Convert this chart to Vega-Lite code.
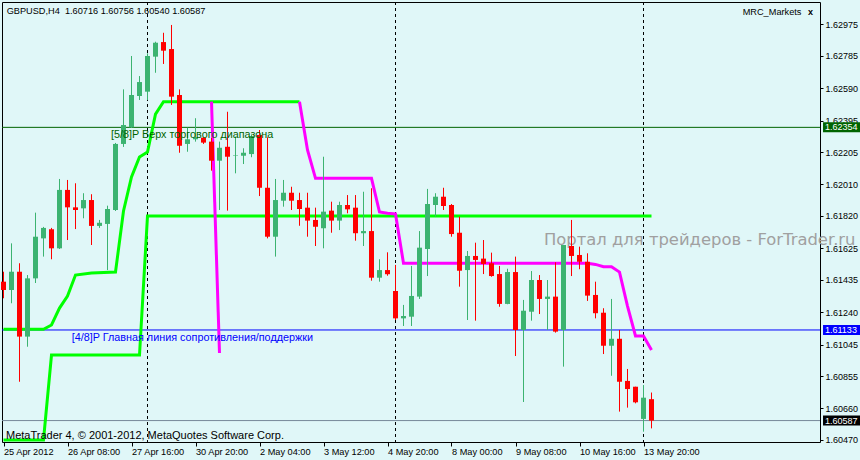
{
  "$schema": "https://vega.github.io/schema/vega-lite/v6.json",
  "width": 818,
  "height": 440,
  "autosize": {"type": "none"},
  "padding": {"left": 2, "top": 2, "right": 40, "bottom": 18},
  "background": "#E0F7F8",
  "config": {
    "view": {"stroke": "#000000", "strokeWidth": 1},
    "font": "Liberation Sans",
    "scale": {"continuousPadding": 0},
    "axis": {"grid": false, "domain": false, "tickColor": "#000000", "labelColor": "#000000", "labelFont": "Liberation Sans"}
  },
  "resolve": {"scale": {"color": "independent"}, "axis": {"x": "independent", "y": "independent"}},
  "datasets": {
    "candles": [
      {"i":0,"open":1.61424,"high":1.61484,"low":1.61324,"close":1.61374},
      {"i":1,"open":1.61374,"high":1.61655,"low":1.61294,"close":1.61484},
      {"i":2,"open":1.61484,"high":1.61535,"low":1.60821,"close":1.61093},
      {"i":3,"open":1.61093,"high":1.61464,"low":1.61032,"close":1.61444},
      {"i":4,"open":1.61444,"high":1.61840,"low":1.61416,"close":1.61695},
      {"i":5,"open":1.61685,"high":1.61754,"low":1.61575,"close":1.61748},
      {"i":6,"open":1.61740,"high":1.61748,"low":1.61559,"close":1.61625},
      {"i":7,"open":1.61625,"high":1.62043,"low":1.61621,"close":1.61977},
      {"i":8,"open":1.61977,"high":1.62037,"low":1.61675,"close":1.61872},
      {"i":9,"open":1.61872,"high":1.62017,"low":1.61741,"close":1.61856},
      {"i":10,"open":1.61866,"high":1.61957,"low":1.61806,"close":1.61916},
      {"i":11,"open":1.61916,"high":1.61951,"low":1.61645,"close":1.61760},
      {"i":12,"open":1.61760,"high":1.61796,"low":1.61748,"close":1.61779},
      {"i":13,"open":1.61772,"high":1.61882,"low":1.61494,"close":1.61862},
      {"i":14,"open":1.61856,"high":1.62260,"low":1.61850,"close":1.62254},
      {"i":15,"open":1.62254,"high":1.62583,"low":1.62236,"close":1.62368},
      {"i":16,"open":1.62354,"high":1.62784,"low":1.62350,"close":1.62549},
      {"i":17,"open":1.62543,"high":1.62663,"low":1.62519,"close":1.62627},
      {"i":18,"open":1.62569,"high":1.62800,"low":1.62519,"close":1.62784},
      {"i":19,"open":1.62780,"high":1.62870,"low":1.62683,"close":1.62864},
      {"i":20,"open":1.62868,"high":1.62924,"low":1.62736,"close":1.62816},
      {"i":21,"open":1.62826,"high":1.62971,"low":1.62489,"close":1.62539},
      {"i":22,"open":1.62549,"high":1.62583,"low":1.62201,"close":1.62243},
      {"i":23,"open":1.62254,"high":1.62352,"low":1.62207,"close":1.62282},
      {"i":24,"open":1.62282,"high":1.62409,"low":1.62268,"close":1.62294},
      {"i":25,"open":1.62292,"high":1.62296,"low":1.62254,"close":1.62262},
      {"i":26,"open":1.62268,"high":1.62290,"low":1.62093,"close":1.62153},
      {"i":27,"open":1.62153,"high":1.62268,"low":1.61856,"close":1.62231},
      {"i":28,"open":1.62237,"high":1.62448,"low":1.61852,"close":1.62177},
      {"i":29,"open":1.62184,"high":1.62298,"low":1.62077,"close":1.62187},
      {"i":30,"open":1.62183,"high":1.62228,"low":1.62133,"close":1.62201},
      {"i":31,"open":1.62193,"high":1.62312,"low":1.62174,"close":1.62302},
      {"i":32,"open":1.62308,"high":1.62338,"low":1.61940,"close":1.61990},
      {"i":33,"open":1.61990,"high":1.62294,"low":1.61685,"close":1.61695},
      {"i":34,"open":1.61695,"high":1.62043,"low":1.61575,"close":1.61916},
      {"i":35,"open":1.61912,"high":1.62037,"low":1.61876,"close":1.61960},
      {"i":36,"open":1.61960,"high":1.61996,"low":1.61856,"close":1.61912},
      {"i":37,"open":1.61916,"high":1.61960,"low":1.61761,"close":1.61862},
      {"i":38,"open":1.61870,"high":1.61960,"low":1.61695,"close":1.61792},
      {"i":39,"open":1.61796,"high":1.61870,"low":1.61639,"close":1.61755},
      {"i":40,"open":1.61746,"high":1.62177,"low":1.61625,"close":1.61846},
      {"i":41,"open":1.61852,"high":1.61906,"low":1.61719,"close":1.61792},
      {"i":42,"open":1.61792,"high":1.61906,"low":1.61735,"close":1.61886},
      {"i":43,"open":1.61886,"high":1.61946,"low":1.61836,"close":1.61860},
      {"i":44,"open":1.61870,"high":1.61946,"low":1.61671,"close":1.61716},
      {"i":45,"open":1.61716,"high":1.61966,"low":1.61639,"close":1.61729},
      {"i":46,"open":1.61729,"high":1.61987,"low":1.61430,"close":1.61448},
      {"i":47,"open":1.61448,"high":1.61559,"low":1.61424,"close":1.61494},
      {"i":48,"open":1.61494,"high":1.61601,"low":1.61460,"close":1.61469},
      {"i":49,"open":1.61368,"high":1.61525,"low":1.61193,"close":1.61203},
      {"i":50,"open":1.61203,"high":1.61284,"low":1.61157,"close":1.61217},
      {"i":51,"open":1.61213,"high":1.61519,"low":1.61157,"close":1.61338},
      {"i":52,"open":1.61334,"high":1.61729,"low":1.61320,"close":1.61629},
      {"i":53,"open":1.61621,"high":1.61983,"low":1.61458,"close":1.61892},
      {"i":54,"open":1.61886,"high":1.61957,"low":1.61816,"close":1.61936},
      {"i":55,"open":1.61936,"high":1.61990,"low":1.61856,"close":1.61880},
      {"i":56,"open":1.61886,"high":1.61892,"low":1.61695,"close":1.61711},
      {"i":57,"open":1.61719,"high":1.61816,"low":1.61394,"close":1.61490},
      {"i":58,"open":1.61494,"high":1.61609,"low":1.61193,"close":1.61579},
      {"i":59,"open":1.61579,"high":1.61659,"low":1.61189,"close":1.61555},
      {"i":60,"open":1.61563,"high":1.61675,"low":1.61470,"close":1.61531},
      {"i":61,"open":1.61535,"high":1.61599,"low":1.61454,"close":1.61458},
      {"i":62,"open":1.61470,"high":1.61519,"low":1.61273,"close":1.61290},
      {"i":63,"open":1.61290,"high":1.61502,"low":1.61288,"close":1.61482},
      {"i":64,"open":1.61482,"high":1.61575,"low":1.60976,"close":1.61133},
      {"i":65,"open":1.61133,"high":1.61314,"low":1.60699,"close":1.61249},
      {"i":66,"open":1.61243,"high":1.61488,"low":1.61189,"close":1.61434},
      {"i":67,"open":1.61434,"high":1.61464,"low":1.61229,"close":1.61320},
      {"i":68,"open":1.61320,"high":1.61434,"low":1.61133,"close":1.61334},
      {"i":69,"open":1.61334,"high":1.61541,"low":1.61117,"close":1.61123},
      {"i":70,"open":1.61133,"high":1.61645,"low":1.60912,"close":1.61645},
      {"i":71,"open":1.61639,"high":1.61796,"low":1.61458,"close":1.61579},
      {"i":72,"open":1.61585,"high":1.61635,"low":1.61499,"close":1.61544},
      {"i":73,"open":1.61544,"high":1.61595,"low":1.61308,"close":1.61340},
      {"i":74,"open":1.61344,"high":1.61424,"low":1.61203,"close":1.61234},
      {"i":75,"open":1.61237,"high":1.61264,"low":1.60988,"close":1.61038},
      {"i":76,"open":1.61038,"high":1.61320,"low":1.60857,"close":1.61080},
      {"i":77,"open":1.61080,"high":1.61133,"low":1.60641,"close":1.60821},
      {"i":78,"open":1.60826,"high":1.60898,"low":1.60665,"close":1.60777},
      {"i":79,"open":1.60791,"high":1.60791,"low":1.60691,"close":1.60697},
      {"i":80,"open":1.60597,"high":1.60801,"low":1.60520,"close":1.60725},
      {"i":81,"open":1.60716,"high":1.60756,"low":1.60540,"close":1.60587}
    ],
    "ind": [
      {"s":"lower","i":0,"p":1.6047},{"s":"lower","i":5,"p":1.6047},{"s":"lower","i":6,"p":1.60982},{"s":"lower","i":17,"p":1.60982},{"s":"lower","i":18,"p":1.6182},{"s":"lower","i":81,"p":1.6182},
      {"s":"upper","i":0,"p":1.61137},{"s":"upper","i":5,"p":1.61137},{"s":"upper","i":6,"p":1.61163},{"s":"upper","i":7,"p":1.61265},{"s":"upper","i":8,"p":1.61338},{"s":"upper","i":9,"p":1.61464},{"s":"upper","i":11,"p":1.61476},{"s":"upper","i":14,"p":1.61482},{"s":"upper","i":15,"p":1.6185},{"s":"upper","i":16,"p":1.62055},{"s":"upper","i":17,"p":1.62175},{"s":"upper","i":18,"p":1.62205},{"s":"upper","i":19,"p":1.62434},{"s":"upper","i":20,"p":1.62509},{"s":"upper","i":37,"p":1.62509},
      {"s":"fall","i":37,"p":1.62509},{"s":"fall","i":38,"p":1.62218},{"s":"fall","i":39,"p":1.62047},{"s":"fall","i":46,"p":1.62047},{"s":"fall","i":47,"p":1.61844},{"s":"fall","i":48,"p":1.61836},{"s":"fall","i":49,"p":1.61832},{"s":"fall","i":50,"p":1.61535},{"s":"fall","i":73,"p":1.61535},{"s":"fall","i":74,"p":1.61528},{"s":"fall","i":75,"p":1.61514},{"s":"fall","i":76,"p":1.61514},{"s":"fall","i":77,"p":1.61482},{"s":"fall","i":78,"p":1.61277},{"s":"fall","i":79,"p":1.61097},{"s":"fall","i":80,"p":1.61097},{"s":"fall","i":81,"p":1.61012},
      {"s":"drop","i":26,"p":1.62509},{"s":"drop","i":27,"p":1.60994}
    ],
    "levels": [
      {"level":"[5/8]","price":1.62354},
      {"level":"[4/8]","price":1.61133},
      {"level":"Bid","price":1.60587}
    ]
  },
  "layer": [
    {
      "data": {"name": "candles"},
      "mark": {"type": "rule", "strokeWidth": 1, "opacity": 0},
      "encoding": {
        "x": {"field": "i", "type": "quantitative",
          "scale": {"domain": [-0.1875, 102.0625], "nice": false, "zero": false, "padding": 0},
          "axis": {"title": null, "values": [0, 8, 16, 24, 32, 40, 48, 56, 64, 72, 80],
            "labelExpr": "['25 Apr 2012','26 Apr 08:00','27 Apr 16:00','30 Apr 20:00','2 May 04:00','3 May 12:00','4 May 20:00','8 May 00:00','9 May 08:00','10 May 16:00','13 May 20:00'][round(datum.value/8)]",
            "labelAlign": "left", "labelBaseline": "top", "labelDx": -1, "labelPadding": 1, "tickSize": 4, "labelFontSize": 9.2, "labelFlush": false, "labelOverlap": false, "orient": "bottom"}},
        "y": {"field": "low", "type": "quantitative",
          "scale": {"domain": [1.604579, 1.631094], "nice": false, "zero": false, "padding": 0},
          "axis": {"title": null, "orient": "right",
            "values": [1.62975, 1.62785, 1.6259, 1.62395, 1.62205, 1.6201, 1.6182, 1.61625, 1.61435, 1.6124, 1.61045, 1.60855, 1.6066, 1.6047],
            "format": ".5f", "labelAlign": "left", "labelBaseline": "middle", "tickSize": 3, "labelPadding": 2, "labelFontSize": 9, "labelOverlap": false, "labelBound": false, "labelSeparation": 0}},
        "y2": {"field": "high"}
      }
    },
    {
      "data": {"values": [{"t": "Портал для трейдеров - ForTrader.ru"}]},
      "mark": {"type": "text", "align": "left", "baseline": "middle", "font": "DejaVu Sans", "fontSize": 16.4, "color": "#A0A0A0"},
      "encoding": {
        "x": {"datum": 67.56, "type": "quantitative", "axis": null},
        "y": {"datum": 1.61675, "type": "quantitative", "axis": null},
        "text": {"field": "t"}
      }
    },
    {
      "data": {"values": [{"i": 18}, {"i": 49}, {"i": 80}]},
      "mark": {"type": "rule", "color": "#000000", "strokeWidth": 1, "strokeDash": [3, 3]},
      "encoding": {"x": {"field": "i", "type": "quantitative", "axis": null}}
    },
    {
      "data": {"name": "levels"},
      "mark": {"type": "rule", "strokeWidth": 1},
      "encoding": {
        "y": {"field": "price", "type": "quantitative", "axis": null},
        "color": {"field": "level", "type": "nominal", "scale": {"domain": ["[5/8]", "[4/8]", "Bid"], "range": ["#006400", "#0000FF", "#778899"]}, "legend": null}
      }
    },
    {
      "data": {"name": "ind"},
      "mark": {"type": "line", "strokeWidth": 3},
      "encoding": {
        "x": {"field": "i", "type": "quantitative", "axis": null},
        "y": {"field": "p", "type": "quantitative", "axis": null},
        "color": {"field": "s", "type": "nominal", "scale": {"domain": ["lower", "upper", "fall", "drop"], "range": ["#00FF00", "#00FF00", "#FF00FF", "#FF00FF"]}, "legend": null}
      }
    },
    {
      "data": {"name": "candles"},
      "mark": {"type": "rule", "strokeWidth": 1},
      "encoding": {
        "x": {"field": "i", "type": "quantitative", "axis": null},
        "y": {"field": "low", "type": "quantitative", "axis": null},
        "y2": {"field": "high"},
        "color": {"condition": {"test": "datum.close >= datum.open", "value": "#3CB371"}, "value": "#FF0000"}
      }
    },
    {
      "data": {"name": "candles"},
      "mark": {"type": "bar", "size": 5},
      "encoding": {
        "x": {"field": "i", "type": "quantitative", "axis": null},
        "y": {"field": "open", "type": "quantitative", "axis": null},
        "y2": {"field": "close"},
        "color": {"condition": {"test": "datum.close >= datum.open", "value": "#3CB371"}, "value": "#FF0000"}
      }
    },
    {
      "data": {"values": [{"t": "[5/8]P Верх торгового диапазона"}]},
      "mark": {"type": "text", "align": "left", "baseline": "top", "dy": 2, "fontSize": 10.8, "color": "#006400"},
      "encoding": {
        "x": {"datum": 13.44, "type": "quantitative", "axis": null},
        "y": {"datum": 1.62354, "type": "quantitative", "axis": null},
        "text": {"field": "t"}
      }
    },
    {
      "data": {"values": [{"t": "[4/8]P Главная линия сопротивления/поддержки"}]},
      "mark": {"type": "text", "align": "left", "baseline": "top", "dy": 2, "fontSize": 10.8, "color": "#0000FF"},
      "encoding": {
        "x": {"datum": 8.53, "type": "quantitative", "axis": null},
        "y": {"datum": 1.61133, "type": "quantitative", "axis": null},
        "text": {"field": "t"}
      }
    },
    {
      "data": {"name": "levels"},
      "mark": {"type": "bar", "orient": "horizontal", "size": 10},
      "encoding": {
        "x": {"datum": 102.44, "type": "quantitative", "axis": null},
        "x2": {"datum": 107.5},
        "y": {"field": "price", "type": "quantitative", "axis": null},
        "fill": {"field": "level", "type": "nominal", "scale": {"domain": ["[5/8]", "[4/8]", "Bid"], "range": ["#006400", "#0000FF", "#000000"]}, "legend": null}
      }
    },
    {
      "data": {"name": "levels"},
      "mark": {"type": "text", "align": "left", "baseline": "middle", "fontSize": 9, "color": "#FFFFFF"},
      "encoding": {
        "x": {"datum": 102.69, "type": "quantitative", "axis": null},
        "y": {"field": "price", "type": "quantitative", "axis": null},
        "text": {"field": "price", "type": "quantitative", "format": ".5f"}
      }
    },
    {
      "data": {"values": [{"t": "GBPUSD,H4\u00a0 1.60716 1.60756 1.60540 1.60587"}]},
      "mark": {"type": "text", "align": "left", "baseline": "middle", "fontSize": 9.2, "color": "#000000"},
      "encoding": {
        "x": {"datum": 0.4, "type": "quantitative", "axis": null},
        "y": {"datum": 1.63057, "type": "quantitative", "axis": null},
        "text": {"field": "t"}
      }
    },
    {
      "data": {"values": [{"t": "MRC_Markets"}]},
      "mark": {"type": "text", "align": "left", "baseline": "middle", "fontSize": 9.2, "color": "#000000"},
      "encoding": {
        "x": {"datum": 92.4, "type": "quantitative", "axis": null},
        "y": {"datum": 1.63049, "type": "quantitative", "axis": null},
        "text": {"field": "t"}
      }
    },
    {
      "data": {"values": [{"t": "x"}]},
      "mark": {"type": "text", "align": "center", "baseline": "middle", "fontSize": 9, "fontWeight": "bold", "color": "#000000"},
      "encoding": {
        "x": {"datum": 100.875, "type": "quantitative", "axis": null},
        "y": {"datum": 1.63049, "type": "quantitative", "axis": null},
        "text": {"field": "t"}
      }
    },
    {
      "data": {"values": [{"t": "MetaTrader 4, © 2001-2012, MetaQuotes Software Corp."}]},
      "mark": {"type": "text", "align": "left", "baseline": "middle", "fontSize": 11, "color": "#000000"},
      "encoding": {
        "x": {"datum": 0.3125, "type": "quantitative", "axis": null},
        "y": {"datum": 1.604959, "type": "quantitative", "axis": null},
        "text": {"field": "t"}
      }
    }
  ]
}
